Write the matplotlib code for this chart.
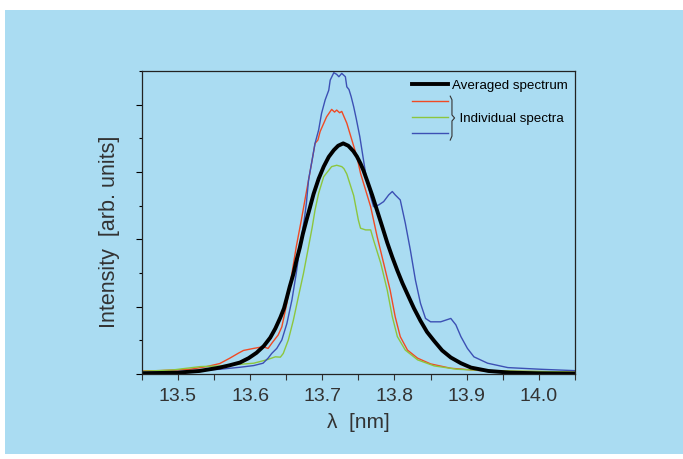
import matplotlib
matplotlib.use("Agg")
import matplotlib.pyplot as plt
from matplotlib.patches import Rectangle
from matplotlib.lines import Line2D
from matplotlib.ticker import MultipleLocator, NullFormatter

# averaged spectrum (black)
avg_x = [13.45, 13.50, 13.53, 13.558, 13.572, 13.586, 13.598, 13.609, 13.619, 13.628,
         13.635, 13.642, 13.647, 13.651, 13.655, 13.660, 13.664, 13.669, 13.673, 13.678,
         13.683, 13.688, 13.695, 13.702, 13.709, 13.716, 13.722, 13.729, 13.736, 13.743,
         13.748, 13.753, 13.757, 13.762, 13.769, 13.776, 13.783, 13.790, 13.797, 13.804,
         13.811, 13.818, 13.827, 13.836, 13.845, 13.855, 13.866, 13.878, 13.892, 13.906,
         13.930, 13.960, 14.00, 14.05]
avg_y = [0.02, 0.04, 0.09, 0.19, 0.26, 0.34, 0.47, 0.63, 0.83, 1.08,
         1.35, 1.68, 1.95, 2.27, 2.60, 2.97, 3.35, 3.76, 4.15, 4.56,
         4.95, 5.35, 5.80, 6.16, 6.45, 6.65, 6.78, 6.85, 6.78, 6.62,
         6.46, 6.25, 6.05, 5.75, 5.32, 4.85, 4.38, 3.90, 3.47, 3.07,
         2.70, 2.37, 1.95, 1.58, 1.25, 0.98, 0.70, 0.49, 0.32, 0.19,
         0.09, 0.04, 0.02, 0.01]

# individual spectra
red_x = [13.45, 13.475, 13.517, 13.540, 13.558, 13.572, 13.584, 13.591, 13.605, 13.618,
         13.625, 13.630, 13.639, 13.644, 13.651, 13.658, 13.664, 13.671, 13.676, 13.681,
         13.686, 13.690, 13.694, 13.697, 13.706, 13.713, 13.717, 13.720, 13.724, 13.727,
         13.734, 13.741, 13.748, 13.753, 13.767, 13.776, 13.785, 13.794, 13.801, 13.808,
         13.818, 13.832, 13.850, 13.878, 13.919, 13.96, 14.05]
red_y = [0.09, 0.10, 0.14, 0.22, 0.31, 0.47, 0.62, 0.70, 0.76, 0.81,
         0.76, 0.91, 1.16, 1.40, 2.10, 2.99, 3.78, 4.57, 5.17, 5.76,
         6.36, 6.85, 6.95, 7.20, 7.64, 7.86, 7.78, 7.84, 7.76, 7.80,
         7.45, 6.95, 6.45, 5.96, 4.97, 4.08, 3.29, 2.49, 1.70, 1.11,
         0.71, 0.47, 0.30, 0.17, 0.10, 0.08, 0.06]

green_x = [13.45, 13.493, 13.531, 13.558, 13.581, 13.605, 13.614, 13.623, 13.635, 13.642,
           13.646, 13.653, 13.660, 13.667, 13.674, 13.681, 13.686, 13.690, 13.695, 13.702,
           13.713, 13.720, 13.727, 13.730, 13.734, 13.7435, 13.750, 13.753, 13.760, 13.767,
           13.771, 13.781, 13.790, 13.797, 13.804, 13.815, 13.832, 13.855, 13.887, 13.93, 14.05]
green_y = [0.08, 0.12, 0.22, 0.24, 0.28, 0.32, 0.37, 0.42, 0.51, 0.50,
           0.61, 1.01, 1.60, 2.30, 2.99, 3.78, 4.35, 4.87, 5.37, 5.86,
           6.16, 6.20, 6.16, 6.10, 5.94, 5.30, 4.57, 4.33, 4.28, 4.28,
           3.98, 3.29, 2.49, 1.70, 1.11, 0.71, 0.42, 0.24, 0.14, 0.10, 0.06]

blue_x = [13.45, 13.493, 13.54, 13.558, 13.586, 13.605, 13.618, 13.625, 13.630, 13.637,
          13.644, 13.651, 13.658, 13.664, 13.669, 13.675, 13.678, 13.681, 13.686, 13.690,
          13.695, 13.699, 13.704, 13.709, 13.711, 13.716, 13.720, 13.723, 13.727, 13.732,
          13.734, 13.737, 13.740, 13.7435, 13.747, 13.752, 13.760, 13.767, 13.771, 13.778,
          13.785, 13.792, 13.797, 13.801, 13.808, 13.815, 13.822, 13.829, 13.836, 13.843,
          13.850, 13.864, 13.878, 13.885, 13.892, 13.901, 13.910, 13.929, 13.957, 14.003, 14.049]
blue_y = [0.05, 0.06, 0.12, 0.14, 0.20, 0.25, 0.32, 0.47, 0.61, 0.76,
          1.01, 1.50, 2.20, 2.99, 3.78, 4.57, 5.07, 5.76, 6.36, 6.85,
          7.25, 7.74, 8.14, 8.43, 8.73, 8.95, 8.90, 8.83, 8.93, 8.83,
          8.53, 8.45, 8.24, 7.94, 7.59, 7.05, 5.96, 5.27, 4.97, 5.02,
          5.12, 5.32, 5.42, 5.32, 5.17, 4.48, 3.68, 2.79, 2.10, 1.65,
          1.55, 1.55, 1.65, 1.46, 1.11, 0.76, 0.51, 0.32, 0.19, 0.14, 0.10]

xticks = [13.5, 13.6, 13.7, 13.8, 13.9, 14.0]
xticklabels = ["13.5", "13.6", "13.7", "13.8", "13.9", "14.0"]

bg = "#aadcf2"
plt.rcParams["font.family"] = ["Liberation Sans", "DejaVu Sans"]

fig = plt.figure(figsize=(6.83, 4.59), dpi=100)
fig.patch.set_facecolor("white")
fig.patches.append(Rectangle((5 / 683, 5 / 459), 678 / 683, 444 / 459,
                             transform=fig.transFigure, facecolor=bg,
                             edgecolor="none", zorder=-5))

ax = fig.add_axes([0.2075, 0.1852, 0.6344, 0.6601])
ax.set_facecolor(bg)

ax.plot(red_x, red_y, color="#f04a24", lw=1.0, label=" ")
ax.plot(green_x, green_y, color="#8cc63e", lw=1.0, label="  Individual spectra")
ax.plot(blue_x, blue_y, color="#3c50b4", lw=1.0, label=" ")
ax.plot(avg_x, avg_y, color="black", lw=2.8, label="Averaged spectrum",
        solid_joinstyle="round")

ax.set_xlim(13.45, 14.05)
ax.set_ylim(0, 9)
ax.set_xticks(xticks)
ax.set_xticklabels(xticklabels)
ax.xaxis.set_minor_locator(MultipleLocator(0.05))
ax.yaxis.set_major_locator(MultipleLocator(2))
ax.yaxis.set_minor_locator(MultipleLocator(1))
ax.yaxis.set_major_formatter(NullFormatter())
ax.tick_params(axis="x", which="both", direction="out", length=4, width=0.8,
               labelsize=14, colors="#333333", pad=6)
ax.tick_params(axis="y", which="major", direction="out", length=4, width=0.8)
ax.tick_params(axis="y", which="minor", direction="out", length=2, width=0.8)
for s in ax.spines.values():
    s.set_color("#222222")
    s.set_linewidth(0.9)

ax.set_xlabel("λ  [nm]", fontsize=15, color="#333333")
ax.xaxis.set_label_coords(0.5, -0.13)
ax.set_ylabel("Intensity  [arb. units]", fontsize=15.5, color="#333333")
ax.yaxis.set_label_coords(-0.05, 0.47)

h, l = ax.get_legend_handles_labels()
order = [3, 0, 1, 2]
leg = ax.legend([h[i] for i in order], [l[i] for i in order], loc="upper left",
                bbox_to_anchor=(0.623, 0.971), frameon=False, fontsize=9.6,
                borderpad=0, borderaxespad=0,
                handlelength=2.75, handletextpad=0.28, labelspacing=0.3)

# brace grouping the individual spectra
bx = [0.712, 0.716, 0.716, 0.722, 0.716, 0.716, 0.712]
by = [0.917, 0.905, 0.855, 0.845, 0.835, 0.785, 0.772]
ax.add_line(Line2D(bx, by, transform=ax.transAxes, color="#333333", lw=0.8))

fig.savefig("out.png", dpi=100)
